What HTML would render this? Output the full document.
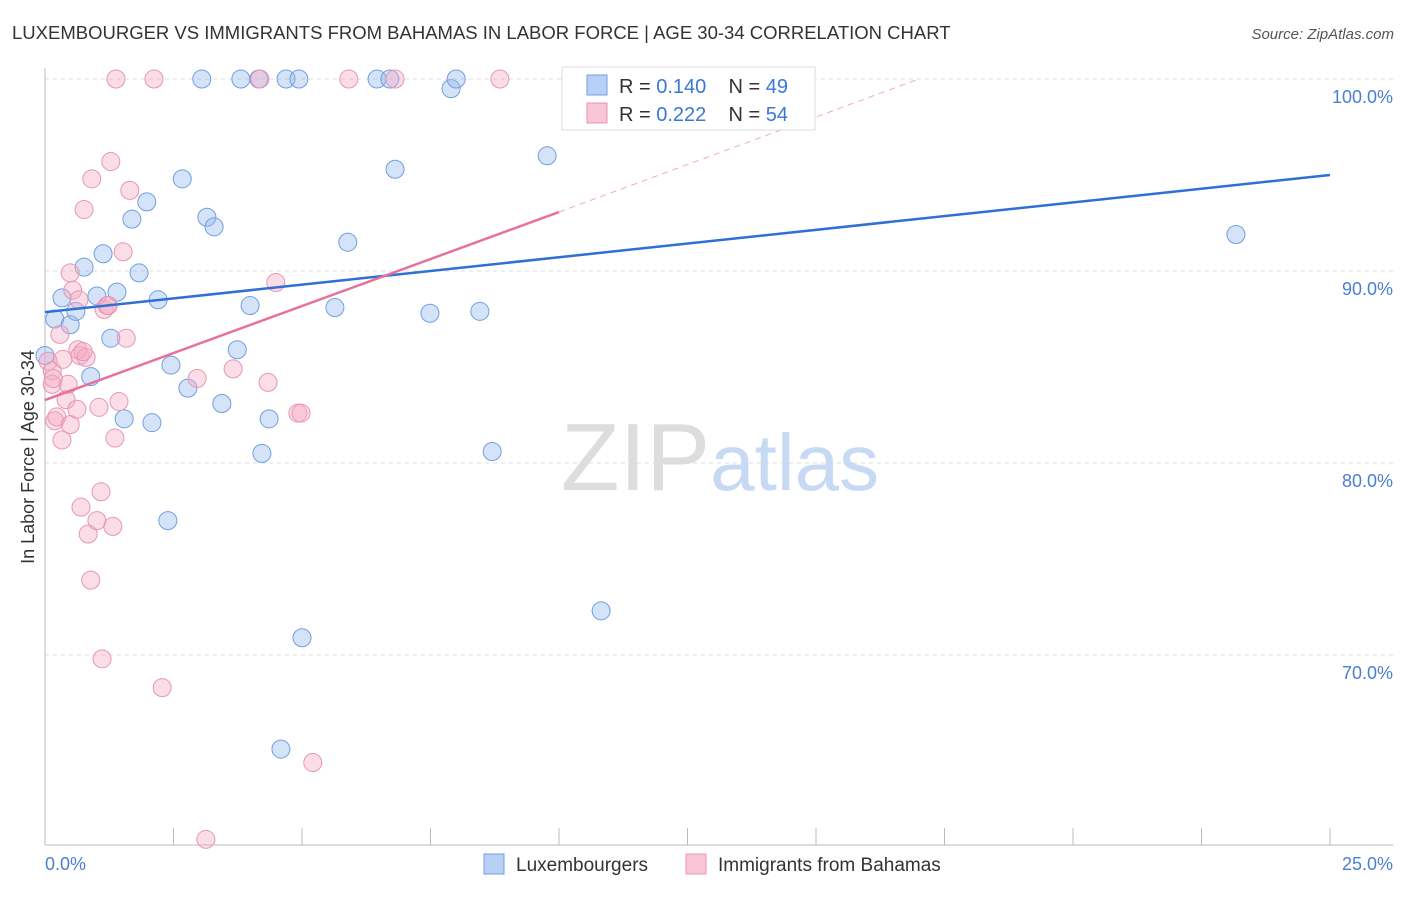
<!DOCTYPE html>
<html><head><meta charset="utf-8"><style>
body{margin:0;background:#fff;font-family:"Liberation Sans",sans-serif;}
svg text{font-family:"Liberation Sans",sans-serif;}
</style></head><body>
<svg id="chart" width="1406" height="892" viewBox="0 0 1406 892" xmlns="http://www.w3.org/2000/svg">
<text x="12" y="39" font-size="18.5" fill="#333">LUXEMBOURGER VS IMMIGRANTS FROM BAHAMAS IN LABOR FORCE | AGE 30-34 CORRELATION CHART</text>
<text x="1394" y="39" font-size="15" fill="#555" text-anchor="end" font-style="italic">Source: ZipAtlas.com</text>
<g id="grid"></g>
<text x="720" y="490" font-size="96" text-anchor="middle" fill="#ddd" font-family="Liberation Serif">ZIP<tspan fill="#c8daf3" font-family="Liberation Sans" font-size="80">atlas</tspan></text>
<text transform="translate(34,457) rotate(-90)" font-size="18" fill="#333" text-anchor="middle">In Labor Force | Age 30-34</text>
<g id="points"></g>
<g id="lines"></g>
<g>
<rect x="562" y="67" width="253" height="63" fill="#fff" stroke="#ddd"/>
<rect x="587" y="75" width="20" height="20" fill="#b8d0f5" stroke="#6f9fe0"/>
<text x="619" y="93" font-size="20" fill="#333" xml:space="preserve">R = <tspan fill="#3a78d8">0.140</tspan>    N = <tspan fill="#3a78d8">49</tspan></text>
<rect x="587" y="103" width="20" height="20" fill="#f9c6d6" stroke="#e896b3"/>
<text x="619" y="121" font-size="20" fill="#333" xml:space="preserve">R = <tspan fill="#3a78d8">0.222</tspan>    N = <tspan fill="#3a78d8">54</tspan></text>
</g>
<g>
<rect x="484" y="854" width="20" height="20" fill="#b8d0f5" stroke="#6f9fe0"/>
<text x="516" y="871" font-size="19" fill="#333">Luxembourgers</text>
<rect x="686" y="854" width="20" height="20" fill="#f9c6d6" stroke="#e896b3"/>
<text x="718" y="871" font-size="19" fill="#333">Immigrants from Bahamas</text>
</g>
<text x="45" y="870" font-size="18" fill="#4a7fd4">0.0%</text>
<text x="1393" y="870" font-size="18" fill="#4a7fd4" text-anchor="end">25.0%</text>
</svg>
<script>
const yTicks=[100,90,80,70];
const yTickLabels=["100.0%","90.0%","80.0%","70.0%"];
const xTicks=[0,2.5,5,7.5,10,12.5,15,17.5,20,22.5,25];
const blueX=[0.0,0.19,0.33,0.49,0.60,0.76,0.89,1.01,1.13,1.28,1.40,1.54,1.69,1.83,1.98,2.08,2.20,2.39,2.45,2.67,2.78,3.05,3.15,3.29,3.44,3.74,3.81,3.99,4.16,4.22,4.36,4.59,4.69,4.94,5.00,5.64,5.89,6.46,6.71,6.81,7.49,7.90,8.00,8.46,8.70,9.77,10.64,10.82,23.17];
const blueY=[85.6,87.5,88.6,87.2,87.9,90.2,84.5,88.7,90.9,86.5,88.9,82.3,92.7,89.9,93.6,82.1,88.5,77.0,85.1,94.8,83.9,100,92.8,92.3,83.1,85.9,100,88.2,100,80.5,82.3,65.1,100,100,70.9,88.1,91.5,100,100,95.3,87.8,99.5,100,87.9,80.6,96.0,100,72.3,91.9];
const pinkX=[0.06,0.14,0.14,0.19,0.23,0.29,0.33,0.35,0.41,0.45,0.49,0.49,0.54,0.62,0.66,0.64,0.70,0.76,0.84,0.89,0.91,1.01,1.05,1.09,1.11,1.15,1.21,1.28,1.32,1.36,1.44,1.52,1.58,1.65,1.38,2.12,2.28,2.96,3.13,3.66,4.18,4.34,4.49,4.92,4.98,5.21,5.91,6.81,8.85,0.68,0.80,0.16,1.23,0.74];
const pinkY=[85.3,84.8,84.1,82.2,82.4,86.7,81.2,85.4,83.3,84.1,89.9,82.0,89.0,82.8,88.5,85.9,77.7,93.2,76.3,73.9,94.8,77.0,82.9,78.5,69.8,88.0,88.2,95.7,76.7,81.3,83.2,91.0,86.5,94.2,100,100,68.3,84.4,60.4,84.9,100,84.2,89.4,82.6,82.6,64.4,100,100,100,85.6,85.5,84.4,88.2,85.8];
const blueTrend=[[0,87.86],[25,95.0]];
const pinkTrend=[[0,83.28],[10,93.07]];
const pinkDash=[[10,93.07],[17.0,100]];
const NS="http://www.w3.org/2000/svg";
const sx=v=>45+v/25*1285;
const sy=v=>79+(100-v)*19.2;
function mk(tag,attrs,parent){const e=document.createElementNS(NS,tag);for(const k in attrs)e.setAttribute(k,attrs[k]);parent.appendChild(e);return e;}
const grid=document.getElementById('grid');
yTicks.forEach((t,i)=>{
 const l=mk('line',{x1:45,x2:1393,y1:sy(t),y2:sy(t),stroke:'#ddd','stroke-dasharray':'4,4'},grid);
 
 
 const tx=mk('text',{x:1393,y:sy(t)+24,'font-size':18,fill:'#4a7fd4','text-anchor':'end'},grid);
 tx.textContent=yTickLabels[i];
 
 
});
const ax=mk('line',{x1:45,x2:45,y1:68,y2:845,stroke:'#bbb'},grid);


const bx=mk('line',{x1:45,x2:1393,y1:845,y2:845,stroke:'#bbb'},grid);


xTicks.forEach(t=>{
 const l=mk('line',{x1:sx(t),x2:sx(t),y1:828,y2:845,stroke:'#bbb'},grid);
 
 
});
const pts=document.getElementById('points');
blueX.forEach((x,i)=>{
 const c=mk('circle',{cx:sx(x),cy:sy(blueY[i]),r:9,fill:'rgba(150,185,240,0.4)',stroke:'#6f9fe0','stroke-width':1},pts);
 
 
});
pinkX.forEach((x,i)=>{
 const c=mk('circle',{cx:sx(x),cy:sy(pinkY[i]),r:9,fill:'rgba(245,170,195,0.4)',stroke:'#e896b3','stroke-width':1},pts);
 
 
});
const ln=document.getElementById('lines');
const b=mk('line',{x1:sx(blueTrend[0][0]),y1:sy(blueTrend[0][1]),x2:sx(blueTrend[1][0]),y2:sy(blueTrend[1][1]),stroke:'#2f6fd6','stroke-width':2.5},ln);


const p=mk('line',{x1:sx(pinkTrend[0][0]),y1:sy(pinkTrend[0][1]),x2:sx(pinkTrend[1][0]),y2:sy(pinkTrend[1][1]),stroke:'#e8709a','stroke-width':2.5},ln);


const pd=mk('line',{x1:sx(pinkDash[0][0]),y1:sy(pinkDash[0][1]),x2:sx(pinkDash[1][0]),y2:sy(pinkDash[1][1]),stroke:'#eeaabf','stroke-width':1,'stroke-dasharray':'6,5'},ln);


</script>
</body></html>
